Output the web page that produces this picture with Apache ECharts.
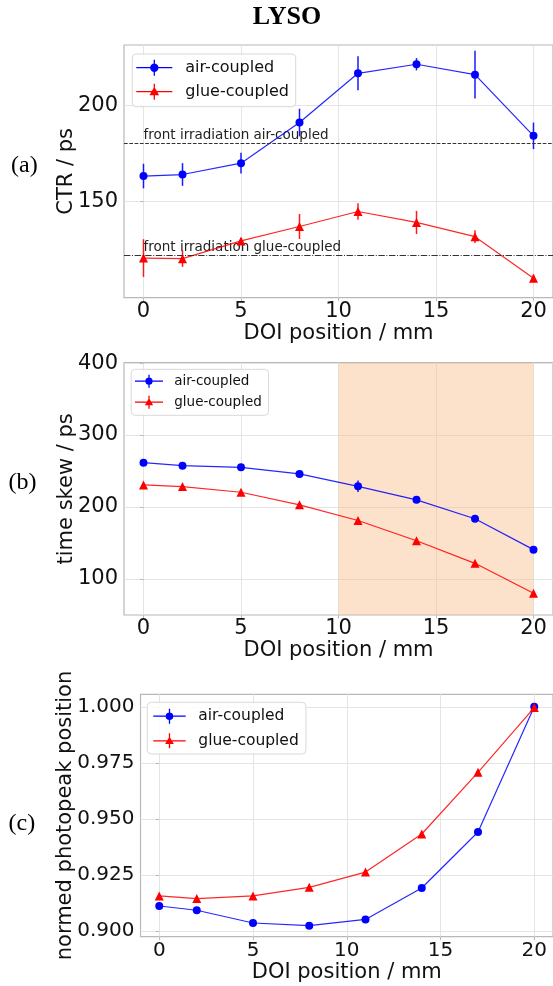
<!DOCTYPE html>
<html><head><meta charset="utf-8">
<script src="https://cdn.jsdelivr.net/npm/echarts@6/dist/echarts.min.js"></script>
<style>html,body{margin:0;padding:0;background:#fff}#c{width:553px;height:986px}</style>
</head><body><div id="c"></div>
<script>
// ---------- data ----------
const doi = [0, 2, 5, 8, 11, 14, 17, 20];
const xTicks = [0, 5, 10, 15, 20];
const seriesNames = ['air-coupled', 'glue-coupled'];

// (a) CTR / ps
const ctrAir     = [163.2, 164.0, 169.9, 191.0, 216.6, 221.3, 215.9, 184.1];
const ctrAirErr  = [6.4, 5.9, 5.4, 7.2, 8.8, 3.2, 12.4, 6.9];
const ctrGlue    = [120.6, 120.3, 129.5, 137.0, 144.8, 139.1, 131.7, 110.1];
const ctrGlueErr = [9.8, 4.3, 1.5, 6.5, 4.3, 6.0, 3.3, 1.9];
const frontValues = [180, 122];
const frontLabels = ['front irradiation air-coupled', 'front irradiation glue-coupled'];
const ctrTicks = [150, 200];

// (b) time skew / ps
const skewAir     = [261.6, 257.5, 255.1, 246.0, 228.8, 210.0, 183.7, 140.8];
const skewAirErr  = [2, 2, 2, 2, 8, 2, 2, 2];
const skewGlue    = [230.7, 228.4, 220.5, 203.0, 181.3, 153.2, 121.8, 80.2];
const skewGlueErr = [1.5, 1.5, 1.5, 1.5, 1.5, 1.5, 1.5, 1.5];
const skewTicks = [100, 200, 300, 400];
const shadeRange = [10, 20];

// (c) normed photopeak position
const ppAir     = [0.9112, 0.9093, 0.9036, 0.9024, 0.9052, 0.9192, 0.9442, 1.0000];
const ppAirErr  = [0.0008, 0.0008, 0.0008, 0.0008, 0.0008, 0.0008, 0.0008, 0.0008];
const ppGlue    = [0.9157, 0.9145, 0.9157, 0.9195, 0.9263, 0.9433, 0.9708, 0.9997];
const ppGlueErr = [0.0008, 0.0008, 0.0008, 0.0008, 0.0008, 0.0008, 0.0008, 0.0008];
const ppTicks = [0.900, 0.925, 0.950, 0.975, 1.000];

// ---------- helpers ----------
const FONT = 'DejaVu Sans';
const BLUE = '#0000ff', RED = '#ff0000';
const pts = (vals) => doi.map((x, i) => [x, vals[i]]);

function iconPath(w, h, r, kind) {
  const t = 1.3, cy = h / 2, cx = w / 2;
  let p = `path://M0,${cy - t/2}H${w}V${cy + t/2}H0Z` +
          `M${cx - t/2},0H${cx + t/2}V${h}H${cx - t/2}Z`;
  if (kind === 'circle') {
    p += `M${cx - r},${cy}A${r},${r} 0 1,1 ${cx + r},${cy}A${r},${r} 0 1,1 ${cx - r},${cy}Z`;
  } else {
    const s = r * 1.15;
    p += `M${cx},${cy - s}L${cx + s},${cy + s * 0.75}L${cx - s},${cy + s * 0.75}Z`;
  }
  return p;
}

function errSeries(gi, vals, errs, color) {
  return {
    type: 'custom', xAxisIndex: gi, yAxisIndex: gi, silent: true, z: 1,
    data: doi.map((x, i) => [x, vals[i] - errs[i], vals[i] + errs[i]]),
    encode: { x: 0, y: [1, 2] },
    renderItem: (params, api) => {
      const a = api.coord([api.value(0), api.value(1)]);
      const b = api.coord([api.value(0), api.value(2)]);
      return { type: 'line', shape: { x1: a[0], y1: a[1], x2: b[0], y2: b[1] },
               style: { stroke: color, lineWidth: 1.5, opacity: 0.9 } };
    }
  };
}

function lineSeries(gi, name, vals, color, symbol, size, extra) {
  return Object.assign({
    type: 'line', name: name, xAxisIndex: gi, yAxisIndex: gi, z: 3,
    data: pts(vals), symbol: symbol, symbolSize: size, showSymbol: true,
    lineStyle: { color: color, width: 1.2, opacity: 0.85 },
    itemStyle: { color: color }
  }, extra || {});
}

function xAxis(gi, labelMargin, nameGap) {
  return {
    type: 'value', gridIndex: gi, min: -1, max: 21,
    name: 'DOI position / mm', nameLocation: 'middle', nameGap: nameGap,
    nameTextStyle: { fontFamily: FONT, fontSize: 21, color: '#111' },
    axisLine: { show: false },
    axisTick: { show: true, length: 3.5, lineStyle: { color: '#bbb' }, customValues: xTicks },
    axisLabel: { fontFamily: FONT, fontSize: gi === 2 ? 20 : 21, color: '#111', margin: labelMargin, customValues: xTicks },
    splitLine: { show: true, lineStyle: { color: '#e4e4e4', width: 1 } }
  };
}

function yAxis(gi, min, max, ticks, name, nameGap, fmt, fs) {
  return {
    type: 'value', gridIndex: gi, min: min, max: max,
    name: name, nameLocation: 'middle', nameGap: nameGap, nameRotate: 90,
    nameMoveOverlap: false,
    nameTextStyle: { fontFamily: FONT, fontSize: 21, color: '#111' },
    axisLine: { show: false },
    axisTick: { show: true, length: 3.5, lineStyle: { color: '#bbb' }, customValues: ticks },
    axisLabel: { fontFamily: FONT, fontSize: fs, color: '#111', margin: 6, customValues: ticks,
                 formatter: fmt },
    splitLine: { show: true, lineStyle: { color: '#e4e4e4', width: 1 } }
  };
}

function legend(left, top, pad, iw, ih, gap, fs, textPad, r) {
  return {
    left: left, top: top, orient: 'vertical', padding: pad,
    itemWidth: iw, itemHeight: ih, itemGap: gap, selectedMode: false,
    backgroundColor: 'rgba(255,255,255,0.85)', borderColor: '#d9d9d9', borderWidth: 1, borderRadius: 4,
    textStyle: { fontFamily: FONT, fontSize: fs, color: '#111', padding: [0, 0, 0, textPad] },
    itemStyle: { borderWidth: 0 },
    data: [
      { name: seriesNames[0], icon: iconPath(iw, ih, r, 'circle') },
      { name: seriesNames[1], icon: iconPath(iw, ih, r, 'triangle') }
    ]
  };
}

const gridBase = { show: true, borderColor: '#b8b8b8', borderWidth: 1.2, backgroundColor: 'transparent' };

const option = {
  animation: false,
  backgroundColor: '#fff',
  grid: [
    Object.assign({ left: 124, top: 45, width: 431, height: 252.7 }, gridBase),
    Object.assign({ left: 124, top: 362.7, width: 431, height: 252.3 }, gridBase),
    Object.assign({ left: 140.5, top: 694.3, width: 414, height: 242.4 }, gridBase)
  ],
  xAxis: [ xAxis(0, 3, 24), xAxis(1, 3, 24), xAxis(2, 4, 24) ],
  yAxis: [
    yAxis(0, 100, 231.3, ctrTicks, 'CTR / ps', 47, v => String(v), 21),
    yAxis(1, 50, 400.5, skewTicks, 'time skew / ps', 47, v => String(v), 21),
    yAxis(2, 0.8975, 1.0056, ppTicks, 'normed photopeak position', 64, v => Number(v).toFixed(3), 20)
  ],
  legend: [
    legend(132.3, 54, [5.7, 6.7, 7, 4], 36, 16, 8, 16, 8, 4.2),
    legend(131.2, 369.3, [4.9, 6.7, 6.1, 3.8], 28, 13, 7, 13.5, 6.3, 3.6),
    legend(147.3, 702.3, [5.9, 7.2, 5.2, 6], 32.4, 15, 8.6, 15.5, 7.6, 3.8)
  ],
  graphic: [
    { type: 'text', x: 287, y: 17, style: { text: 'LYSO', font: 'bold 26px "Liberation Serif"', fill: '#000', textAlign: 'center', textVerticalAlign: 'middle' } },
    { type: 'text', x: 11, y: 166, style: { text: '(a)', font: '24px "Liberation Serif"', fill: '#000', textAlign: 'left', textVerticalAlign: 'middle' } },
    { type: 'text', x: 8.5, y: 483, style: { text: '(b)', font: '24px "Liberation Serif"', fill: '#000', textAlign: 'left', textVerticalAlign: 'middle' } },
    { type: 'text', x: 8.5, y: 824, style: { text: '(c)', font: '24px "Liberation Serif"', fill: '#000', textAlign: 'left', textVerticalAlign: 'middle' } }
  ],
  series: [
    // (a)
    errSeries(0, ctrAir, ctrAirErr, BLUE),
    errSeries(0, ctrGlue, ctrGlueErr, RED),
    lineSeries(0, seriesNames[0], ctrAir, BLUE, 'circle', 8, {
      markLine: {
        silent: true, symbol: 'none', label: { show: false },
        lineStyle: { color: '#333', width: 1 },
        data: [
          { yAxis: frontValues[0], lineStyle: { type: [3.7, 1.6], color: '#333', width: 1 } },
          { yAxis: frontValues[1], lineStyle: { type: [6.4, 1.6, 1, 1.6], color: '#333', width: 1 } }
        ]
      }
    }),
    lineSeries(0, seriesNames[1], ctrGlue, RED, 'triangle', 9),
    {
      type: 'custom', xAxisIndex: 0, yAxisIndex: 0, silent: true, z: 2,
      data: frontValues.map(v => [0, v]),
      renderItem: (params, api) => {
        const c = api.coord([api.value(0), api.value(1)]);
        return { type: 'text', x: c[0], y: c[1] - 1,
                 style: { text: frontLabels[params.dataIndex], font: '13.5px "DejaVu Sans"', fill: '#222',
                          textAlign: 'left', textVerticalAlign: 'bottom' } };
      }
    },
    // (b)
    errSeries(1, skewAir, skewAirErr, BLUE),
    errSeries(1, skewGlue, skewGlueErr, RED),
    lineSeries(1, seriesNames[0], skewAir, BLUE, 'circle', 8, {
      markArea: {
        silent: true,
        itemStyle: { color: 'rgba(248,190,140,0.45)' },
        data: [[{ xAxis: shadeRange[0] }, { xAxis: shadeRange[1] }]]
      }
    }),
    lineSeries(1, seriesNames[1], skewGlue, RED, 'triangle', 9),
    // (c)
    errSeries(2, ppAir, ppAirErr, BLUE),
    errSeries(2, ppGlue, ppGlueErr, RED),
    lineSeries(2, seriesNames[0], ppAir, BLUE, 'circle', 8),
    lineSeries(2, seriesNames[1], ppGlue, RED, 'triangle', 9)
  ]
};

const chart = echarts.init(document.getElementById('c'), null, { renderer: 'canvas' });
chart.setOption(option);
</script>
</body></html>
